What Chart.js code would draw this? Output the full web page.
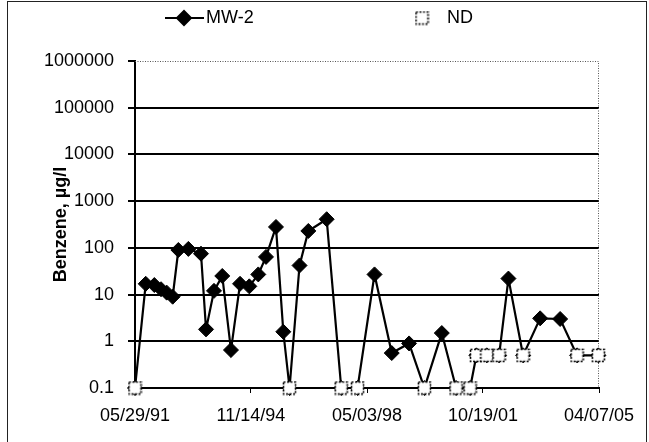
<!DOCTYPE html>
<html>
<head>
<meta charset="utf-8">
<title>Benzene MW-2</title>
<script src="https://cdn.jsdelivr.net/npm/chart.js"></script>
<style>
  html, body { margin: 0; padding: 0; background: #fff; }
  .container { position: relative; width: 649px; height: 442px; }
  .frame {
    position: absolute; left: 7px; top: 1px; width: 640px; height: 441px;
    border: 1px solid #222; border-bottom: none; box-sizing: border-box;
    pointer-events: none;
  }
</style>
</head>
<body>
<div class="container">
  <canvas id="myChart" width="649" height="442"></canvas>
  <div class="frame"></div>
</div>
<script>
// Sampling dates for well MW-2
const sampleDates = [
  "1991-05-29", "1991-09-23", "1991-12-26", "1992-03-08", "1992-05-09",
  "1992-07-13", "1992-09-13", "1992-12-31", "1993-05-18", "1993-07-12",
  "1993-10-07", "1994-01-05", "1994-04-10", "1994-07-18", "1994-10-27",
  "1995-02-02", "1995-04-27", "1995-08-14", "1995-11-02", "1996-01-09",
  "1996-04-27", "1996-08-01", "1997-02-17", "1997-07-26", "1998-01-20",
  "1998-07-24", "1999-01-28", "1999-08-05", "2000-01-19", "2000-07-27",
  "2000-12-30", "2001-06-01", "2001-08-09", "2001-11-30", "2002-04-13",
  "2002-07-24", "2002-12-31", "2003-07-05", "2004-02-08", "2004-08-11",
  "2005-03-31"
];

// Benzene, ug/l (non-detects plotted at the reporting limit)
const benzene = [
  0.1, 17, 16, 13, 11,
  9, 90, 95, 75, 1.8,
  12, 25, 0.65, 17, 15,
  27, 64, 280, 1.6, 0.1,
  42, 230, 410, 0.1, 0.1,
  27, 0.56, 0.9, 0.1, 1.5,
  0.1, 0.1, 0.5, 0.5, 0.5,
  22, 0.5, 3.1, 3.0, 0.5,
  0.5
];

// 1 = not detected
const ndFlags = [
  1, 0, 0, 0, 0,
  0, 0, 0, 0, 0,
  0, 0, 0, 0, 0,
  0, 0, 0, 0, 1,
  0, 0, 0, 1, 1,
  0, 0, 0, 1, 0,
  1, 1, 1, 1, 1,
  0, 1, 0, 0, 1,
  1
];

const xTickLabels = ["05/29/91", "11/14/94", "05/03/98", "10/19/01", "04/07/05"];
const yTickValues = [0.1, 1, 10, 100, 1000, 10000, 100000, 1000000];

const DAY = 86400000;

function labelToTime(label) {
  const [mm, dd, yy] = label.split("/").map(Number);
  const year = yy < 50 ? 2000 + yy : 1900 + yy;
  return Date.UTC(year, mm - 1, dd);
}

const origin = labelToTime(xTickLabels[0]);

function dayOf(iso) {
  return (Date.parse(iso) - origin) / DAY;
}

const xTicks = xTickLabels.map((l) => (labelToTime(l) - origin) / DAY);

const mwPoints = sampleDates.map((d, i) => ({ x: dayOf(d), y: benzene[i] }));
const ndPoints = mwPoints.filter((p, i) => ndFlags[i] === 1);

// White square with a dotted outline for non-detect samples
function makeNdMarker() {
  const c = document.createElement("canvas");
  c.width = 15;
  c.height = 15;
  const g = c.getContext("2d");
  g.fillStyle = "#fff";
  g.fillRect(1.5, 1.5, 12, 12);
  g.strokeStyle = "#000";
  g.lineWidth = 1.6;
  g.setLineDash([2, 1.5]);
  g.strokeRect(1.5, 1.5, 12, 12);
  return c;
}
const ndMarker = makeNdMarker();

const FONT = "'Liberation Sans', Arial, Helvetica, sans-serif";

// Dotted top/right border of the plot area
const plotBorder = {
  id: "plotBorder",
  beforeDatasetsDraw(chart) {
    const { ctx, chartArea: a } = chart;
    ctx.save();
    ctx.strokeStyle = "#555";
    ctx.lineWidth = 1;
    ctx.setLineDash([1, 1.5]);
    ctx.beginPath();
    ctx.moveTo(a.left, a.top + 0.5);
    ctx.lineTo(a.right - 0.5, a.top + 0.5);
    ctx.lineTo(a.right - 0.5, a.bottom);
    ctx.stroke();
    ctx.restore();
  },
};

// Legend row: line with diamond for MW-2, marker only for ND
const legendRow = {
  id: "legendRow",
  afterDraw(chart) {
    const ctx = chart.ctx;
    const y = 18;
    ctx.save();
    ctx.strokeStyle = "#000";
    ctx.fillStyle = "#000";
    ctx.lineWidth = 2;
    ctx.beginPath();
    ctx.moveTo(165, y);
    ctx.lineTo(204, y);
    ctx.stroke();
    Chart.helpers.drawPoint(ctx, { pointStyle: "rectRot", radius: 7, borderWidth: 1 }, 184, y);

    ctx.font = "18px " + FONT;
    ctx.textBaseline = "middle";
    ctx.textAlign = "left";
    ctx.fillText("MW-2", 206, y);

    ctx.drawImage(ndMarker, 422 - 7.5, y - 7.5);
    ctx.fillText("ND", 447, y);
    ctx.restore();
  },
};

const ctx = document.getElementById("myChart");

new Chart(ctx, {
  type: "line",
  data: {
    datasets: [
      {
        label: "ND",
        data: ndPoints,
        showLine: false,
        pointStyle: ndMarker,
        clip: false,
        order: 0,
      },
      {
        label: "MW-2",
        data: mwPoints,
        borderColor: "#000",
        borderWidth: 2.2,
        backgroundColor: "#000",
        pointStyle: "rectRot",
        pointRadius: 7.5,
        pointBorderWidth: 1,
        pointBackgroundColor: "#000",
        pointBorderColor: "#000",
        tension: 0,
        clip: false,
        order: 1,
      },
    ],
  },
  options: {
    responsive: false,
    animation: false,
    events: [],
    layout: { padding: { top: 61, right: 50, left: 0, bottom: 0 } },
    plugins: {
      legend: { display: false },
      tooltip: { enabled: false },
    },
    scales: {
      x: {
        type: "linear",
        min: xTicks[0],
        max: xTicks[xTicks.length - 1],
        afterBuildTicks: (axis) => {
          axis.ticks = xTicks.map((v) => ({ value: v }));
        },
        afterFit: (axis) => {
          axis.height = 54;
        },
        ticks: {
          autoSkip: false,
          maxRotation: 0,
          padding: 12,
          color: "#000",
          font: { family: FONT, size: 18 },
          callback: (v, i) => xTickLabels[i],
        },
        grid: {
          drawOnChartArea: false,
          drawTicks: true,
          tickLength: 5,
          color: "#000",
          lineWidth: 1,
        },
        border: { color: "#000", width: 2 },
      },
      y: {
        type: "logarithmic",
        min: yTickValues[0],
        max: yTickValues[yTickValues.length - 1],
        afterBuildTicks: (axis) => {
          axis.ticks = yTickValues.map((v) => ({ value: v }));
        },
        afterFit: (axis) => {
          axis.width = 135;
        },
        ticks: {
          padding: 14,
          color: "#000",
          font: { family: FONT, size: 18 },
          callback: (v) => String(v),
        },
        grid: {
          color: (c) => (c.tick && c.tick.value >= 1000000 ? "rgba(0,0,0,0)" : "#000"),
          tickColor: "#000",
          lineWidth: 2,
          tickLength: 7,
        },
        border: { color: "#000", width: 2 },
        title: {
          display: true,
          text: "Benzene, µg/l",
          color: "#000",
          font: { family: FONT, size: 18, weight: "bold" },
          padding: { top: 50, bottom: 0 },
        },
      },
    },
  },
  plugins: [plotBorder, legendRow],
});
</script>
</body>
</html>
